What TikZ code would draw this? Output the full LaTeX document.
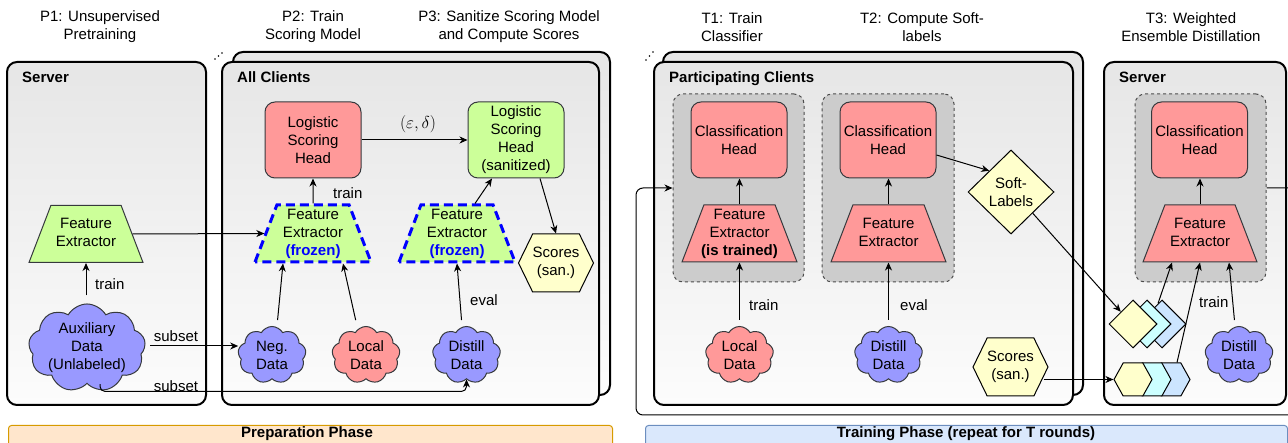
\documentclass[tikz,border=0pt]{standalone}
\usepackage{fontspec}
\setmainfont{Liberation Sans}
\usetikzlibrary{arrows.meta,shapes.geometric,shapes.symbols,calc}

\definecolor{hdred}{HTML}{FF9999}
\definecolor{fegreen}{HTML}{CCFF99}
\definecolor{datapurple}{HTML}{9999FF}
\definecolor{scoreyellow}{HTML}{FFFFCC}
\definecolor{stackcyan}{HTML}{CCFFFF}
\definecolor{stackblue}{HTML}{CCE5FF}
\definecolor{groupgray}{HTML}{CCCCCC}
\definecolor{boxtop}{HTML}{E6E6E6}
\definecolor{boxbot}{HTML}{FCFCFC}
\definecolor{prepfill}{HTML}{FFE6CC}
\definecolor{prepline}{HTML}{D79B00}
\definecolor{trainfill}{HTML}{DAE8FC}
\definecolor{trainline}{HTML}{6C8EBF}
\definecolor{shapeedge}{HTML}{36393D}
\definecolor{frozenblue}{HTML}{0000FF}

\tikzset{
  txt/.style={font=\fontsize{15}{18}\selectfont, text=black},
  titletxt/.style={txt, align=center},
  boxlabel/.style={txt, font=\fontsize{15}{18}\selectfont\bfseries, anchor=base west, inner sep=0pt},
  container/.style={draw=black, line width=2pt, rounded corners=10pt,
    top color=boxtop, bottom color=boxbot},
  groupbox/.style={draw=black!70, line width=1pt, dash pattern=on 3pt off 3pt,
    fill=groupgray, rounded corners=10pt, minimum width=131pt, minimum height=188pt},
  head/.style={txt, draw=shapeedge, line width=1pt, rounded corners=10pt,
    minimum width=96pt, minimum height=76pt, align=center, inner sep=0pt},
  % text is wrapped in struts so the box height (and so the side slope) is fixed
  fe/.style={txt, trapezium, trapezium angle=69, trapezium stretches body,
    minimum width=115pt, draw=shapeedge, line width=1pt,
    align=center, inner xsep=0pt, inner ysep=1.5pt},
  fetwo/.style={fe, inner ysep=10.5pt},
  frozen/.style={fe, fill=fegreen, draw=frozenblue, line width=3pt,
    dash pattern=on 9pt off 5pt},
  datacloud/.style={txt, cloud, cloud puffs=9, cloud puff arc=120, cloud ignores aspect,
    minimum width=68pt, minimum height=57pt, draw=shapeedge, line width=1pt,
    align=center, inner sep=0pt},
  scorehex/.style={txt, signal, signal to=west and east, signal pointer angle=128,
    draw=black, line width=1pt, fill=scoreyellow, align=center, inner sep=0pt,
    minimum width=63pt, minimum height=58pt},
  stackdia/.style={diamond, draw=black, line width=1pt, inner sep=0pt,
    minimum width=48pt, minimum height=48pt},
  stackhex/.style={signal, signal to=west and east, signal pointer angle=122,
    draw=black, line width=1pt, inner sep=0pt, minimum width=38pt, minimum height=33pt},
  arr/.style={draw=black, line width=1pt, -{Stealth[length=8pt,width=7pt,inset=2.5pt]}},
  edgelabel/.style={txt, anchor=west, inner sep=0pt},
  dot/.style={fill=black, circle, inner sep=0pt, minimum size=1.8pt},
}

\begin{document}
\begin{tikzpicture}[x=1pt,y=-1pt]
\useasboundingbox (0,0) rectangle (1288,443);

% ---------- step titles ----------
\node[titletxt] (tP1) at (100,27) {P1: Unsupervised\\Pretraining};
\node[titletxt] (tP2) at (313,27) {P2: Train\\Scoring Model};
\node[titletxt] (tP3) at (509,27) {P3: Sanitize Scoring Model\\and Compute Scores};
\node[titletxt] (tT1) at (732,27) {T1: Train\\Classifier};
\node[titletxt] (tT2) at (922,27) {T2: Compute Soft-\\labels};
\node[titletxt] (tT3) at (1191,27) {T3: Weighted\\Ensemble Distillation};

% ---------- containers ----------
\path[container] (7,62) rectangle (206,405);
\node[boxlabel] (lServer) at (22,82.5) {Server};

\path[container] (233,52) rectangle (610,395);
\path[container] (222,62) rectangle (599,405);
\node[boxlabel] (lAll) at (237,82.5) {All Clients};
\node[dot] (d1) at (215,59) {};
\node[dot] (d2) at (218.5,56) {};
\node[dot] (d3) at (222,53) {};

\path[container] (663,52) rectangle (1083,395);
\path[container] (654,62) rectangle (1073,405);
\node[boxlabel] (lPart) at (669,82.5) {Participating Clients};
\node[dot] (d4) at (646,60) {};
\node[dot] (d5) at (649.5,56) {};
\node[dot] (d6) at (653,52) {};

\path[container] (1104,62) rectangle (1286,405);
\node[boxlabel] (lServer2) at (1119,82.5) {Server};

% ---------- phase bars ----------
\node[draw=prepline, fill=prepfill, rounded corners=3pt, line width=1pt,
  minimum width=604pt, minimum height=30pt, anchor=north west] (prepbar) at (8,425) {};
\node[txt, font=\fontsize{15}{18}\selectfont\bfseries] (preptxt) at (307,434) {Preparation Phase};
\node[draw=trainline, fill=trainfill, rounded corners=3pt, line width=1pt,
  minimum width=642pt, minimum height=30pt, anchor=north west] (trainbar) at (645,425) {};
\node[txt, font=\fontsize{15}{18}\selectfont\bfseries] (traintxt) at (966,434) {Training Phase (repeat for T rounds)};

% ---------- preparation phase ----------
\node[fetwo, fill=fegreen, minimum width=114pt] (fe0) at (86,234) {\strut Feature\\Extractor\strut};
\node[datacloud, fill=datapurple, minimum width=114pt, minimum height=86pt] (aux) at (87,348) {Auxiliary\\Data\\(Unlabeled)};

\node[head, fill=hdred] (lsh) at (313,140) {Logistic\\Scoring\\Head};
\node[head, fill=fegreen] (lshs) at (516,140) {Logistic\\Scoring\\Head\\(sanitized)};
\node[frozen, minimum width=116pt] (frz1) at (313,233.5) {\strut Feature\\Extractor\\\textcolor{frozenblue}{\bfseries (frozen)}\strut};
\node[frozen, minimum width=116pt] (frz2) at (457,233.5) {\strut Feature\\Extractor\\\textcolor{frozenblue}{\bfseries (frozen)}\strut};
\node[scorehex] (sc1) at (556,263) {Scores\\(san.)};

\node[datacloud, fill=datapurple] (neg) at (272,355) {Neg.\\Data};
\node[datacloud, fill=hdred] (loc1) at (366,355) {Local\\Data};
\node[datacloud, fill=datapurple] (dst1) at (466.5,355) {Distill\\Data};

\draw[arr, shorten <=8pt] (aux.north -| fe0.south) -- (fe0.south);
\node[edgelabel] (ltrain0) at (95,284) {train};
\draw[arr] (fe0.east) -- (frz1.west);
\draw[arr, shorten <=5pt] (aux.east |- 0,346) -- (neg.west |- 0,346);
\node[txt] (lsub1) at (176,336) {subset};
\draw[arr, rounded corners=5pt] ([xshift=13pt]aux.south) |- ($(dst1.south)+(0,12)$) -- (dst1.south);
\node[txt] (lsub2) at (176,386) {subset};

\draw[arr] (frz1.north) -- (lsh.south);
\node[edgelabel] (ltrain1) at (333,193) {train};
\draw[arr] (lsh.east) -- (lshs.west);
\node[txt, font=\fontsize{18}{20}\selectfont, inner sep=0pt] (leps) at (418,124) {$(\varepsilon, \delta)$};
\draw[arr] ([xshift=18pt]frz2.north) -- ([xshift=-24pt]lshs.south);
\draw[arr] ([xshift=24pt]lshs.south) -- (sc1.north);

\draw[arr, shorten <=6pt] ([xshift=5pt]neg.north) -- ([xshift=-30pt]frz1.south);
\draw[arr, shorten <=6pt] ([xshift=-9pt]loc1.north) -- ([xshift=30pt]frz1.south);
\draw[arr, shorten <=6pt] ([xshift=-4.5pt]dst1.north) -- (frz2.south);
\node[edgelabel] (leval1) at (470,300) {eval};

% ---------- training phase: clients ----------
\node[groupbox] (grp1) at (738.5,188) {};
\node[groupbox, minimum width=132pt] (grp2) at (888,188) {};
\node[head, fill=hdred] (ch1) at (739,140) {Classification\\Head};
\node[head, fill=hdred] (ch2) at (888,140) {Classification\\Head};
\node[fe, fill=hdred, inner xsep=-3pt] (fet1) at (739.5,233.5) {\strut Feature\\Extractor\\\bfseries (is trained)\strut};
\node[fetwo, fill=hdred] (fet2) at (888.5,233.5) {\strut Feature\\Extractor\strut};
\node[datacloud, fill=hdred] (loc2) at (739.5,355) {Local\\Data};
\node[datacloud, fill=datapurple] (dst2) at (888.5,355) {Distill\\Data};

\draw[arr] (fet1.north) -- (fet1.north |- ch1.south);
\draw[arr] (fet2.north) -- (fet2.north |- ch2.south);
\draw[arr, shorten <=6pt] (loc2.north) -- (loc2.north |- fet1.south);
\node[edgelabel] (ltrain2) at (749,305) {train};
\draw[arr, shorten <=6pt] (dst2.north) -- (dst2.north |- fet2.south);
\node[edgelabel] (leval2) at (900,305) {eval};

\node[txt, diamond, draw=black, line width=1pt, fill=scoreyellow, align=center,
  inner sep=0pt, minimum width=86pt, minimum height=84pt] (soft) at (1011,192) {Soft-\\Labels};
\node[scorehex] (sc2) at (1010.5,367) {Scores\\(san.)};

\draw[arr] ([shift={(0,15)}]ch2.east) -- (soft.north west);

% ---------- training phase: server ----------
\node[groupbox] (grp3) at (1200.5,188) {};
\node[head, fill=hdred] (ch3) at (1199.5,140) {Classification\\Head};
\node[fetwo, fill=hdred, minimum width=114pt] (fet3) at (1200,233.5) {\strut Feature\\Extractor\strut};
\node[datacloud, fill=datapurple] (dst3) at (1239,355) {Distill\\Data};

\node[stackdia, fill=stackblue] (db) at (1162,324) {};
\node[stackdia, fill=stackcyan] (dc) at (1147,324) {};
\node[stackdia, fill=scoreyellow] (dy) at (1133,324) {};
\node[stackhex, fill=stackblue] (hb) at (1171,379.5) {};
\node[stackhex, fill=stackcyan] (hc) at (1152,379.5) {};
\node[stackhex, fill=scoreyellow] (hy) at (1133,379.5) {};

\draw[arr] (fet3.north) -- (fet3.north |- ch3.south);
\draw[arr] (soft.south east) -- (dy.north west);
\draw[arr] ($(hy.west -| sc2.east)+(-5,0)$) -- (hy.west);
\draw[arr] ([xshift=-4pt,yshift=-4pt]db.north) -- ([xshift=-28pt]fet3.south);
\draw[arr] ([xshift=6pt]hb.north) -- (fet3.south);
\draw[arr, shorten <=6pt] ([xshift=-4pt]dst3.north) -- ([xshift=29pt]fet3.south);
\node[edgelabel] (ltrain3) at (1199,302) {train};

% ---------- round loop back to the clients ----------
\coordinate (loopR) at (1300,415);
\coordinate (loopL) at (636,415);
\draw[arr, rounded corners=7pt] (grp3.east) -| (loopR) -- (loopL) |- (grp1.west);

\end{tikzpicture}
\end{document}
